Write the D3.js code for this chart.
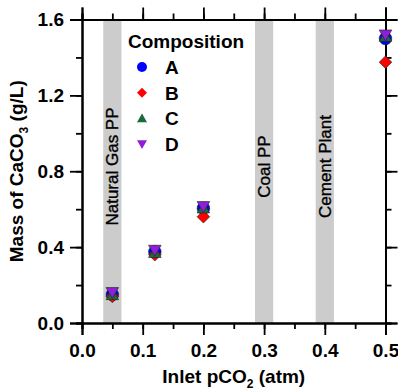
<!DOCTYPE html>
<html lang="en">
<head>
<meta charset="UTF-8">
<title>CaCO3 mass vs inlet pCO2</title>
<script src="https://cdn.jsdelivr.net/npm/d3@7" type="text/javascript"></script>
<style>
  body { margin: 0; background: #fff; }
  text { font-family: "Liberation Sans", Arial, sans-serif; fill: #000; }
</style>
</head>
<body>
<svg width="398" height="390"></svg>
<script type="text/javascript">
// data
var pco2 = [0.05, 0.12, 0.2, 0.5];
var seriesNames = ["A", "B", "C", "D"];
var massA = [0.150, 0.375, 0.605, 1.500];
var massB = [0.140, 0.360, 0.560, 1.375];
var massC = [0.148, 0.370, 0.605, 1.510];
var massD = [0.162, 0.385, 0.615, 1.520];
var seriesColors = ["#0000ff", "#ff0000", "#1a6b3a", "#8f1fd6"];

// shaded source bands
var bandLabels = ["Natural Gas PP", "Coal PP", "Cement Plant"];
var bandCenters = [0.05, 0.3, 0.4];
var bandHalf = 0.015;

var xTicks = [0.0, 0.1, 0.2, 0.3, 0.4, 0.5];
var yTicks = [0.0, 0.4, 0.8, 1.2, 1.6];

var svg = d3.select("svg");
var pL = 82, pR = 385.5, pT = 19.5, pB = 323;

var x = d3.scaleLinear().domain([0, 0.5]).range([pL, pR]);
var y = d3.scaleLinear().domain([0, 1.6]).range([pB, pT]);

// bands
var bands = svg.append("g");
bands.selectAll("rect")
    .data(bandCenters)
    .enter()
    .append("rect")
    .attr("x", function(d){ return x(d - bandHalf); })
    .attr("y", pT)
    .attr("width", function(d){ return x(d + bandHalf) - x(d - bandHalf); })
    .attr("height", pB - pT)
    .attr("fill", "#cccccc");

bands.selectAll("text")
    .data(bandCenters)
    .enter()
    .append("text")
    .attr("transform", function(d){ return "translate(" + (x(d) + 6) + "," + y(0.825) + ") rotate(-90)"; })
    .attr("text-anchor", "middle")
    .attr("stroke", "#000")
    .attr("stroke-width", 0.35)
    .style("font-size", "17px")
    .text(function(d, i){ return bandLabels[i]; });

// axes: ticks outward on all four sides
var fmt = d3.format(".1f");
var xMinor = d3.range(0, 0.5001, 0.05);
var yMinor = d3.range(0, 1.6001, 0.2);

svg.append("g").attr("transform", "translate(0," + pB + ")")
    .call(d3.axisBottom(x).tickValues(xMinor).tickSize(6).tickFormat(""));
svg.append("g").attr("transform", "translate(0," + pB + ")")
    .call(d3.axisBottom(x).tickValues(xTicks).tickSize(12).tickPadding(9).tickFormat(fmt));
svg.append("g").attr("transform", "translate(0," + pT + ")")
    .call(d3.axisTop(x).tickValues(xMinor).tickSize(6).tickFormat(""));
svg.append("g").attr("transform", "translate(0," + pT + ")")
    .call(d3.axisTop(x).tickValues(xTicks).tickSize(12).tickFormat(""));

svg.append("g").attr("transform", "translate(" + pL + ",0)")
    .call(d3.axisLeft(y).tickValues(yMinor).tickSize(6).tickFormat(""));
svg.append("g").attr("transform", "translate(" + pL + ",0)")
    .call(d3.axisLeft(y).tickValues(yTicks).tickSize(12).tickPadding(6).tickFormat(fmt));
svg.append("g").attr("transform", "translate(" + pR + ",0)")
    .call(d3.axisRight(y).tickValues(yMinor).tickSize(6).tickFormat(""));
svg.append("g").attr("transform", "translate(" + pR + ",0)")
    .call(d3.axisRight(y).tickValues(yTicks).tickSize(12).tickFormat(""));

svg.selectAll(".domain").attr("stroke", "#000").attr("stroke-width", 2);
svg.selectAll(".tick line").attr("stroke", "#000").attr("stroke-width", 1.8);
svg.selectAll(".tick text")
    .style("font-family", "'Liberation Sans', Arial, sans-serif")
    .style("font-size", "19px")
    .style("font-weight", "bold")
    .attr("fill", "#000");

// axis titles
var xt = svg.append("text")
    .attr("x", (pL + pR) / 2)
    .attr("y", 383)
    .attr("text-anchor", "middle")
    .style("font-size", "19px")
    .style("font-weight", "bold");
xt.append("tspan").text("Inlet pCO");
xt.append("tspan").attr("dy", 5).style("font-size", "12px").text("2");
xt.append("tspan").attr("dy", -5).text(" (atm)");

var yt = svg.append("text")
    .attr("transform", "translate(23," + ((pT + pB) / 2) + ") rotate(-90)")
    .attr("text-anchor", "middle")
    .style("font-size", "19px")
    .style("font-weight", "bold");
yt.append("tspan").text("Mass of CaCO");
yt.append("tspan").attr("dy", 5).style("font-size", "12px").text("3");
yt.append("tspan").attr("dy", -5).text(" (g/L)");

// marker shapes
function marker(i, r) {
    if (i === 0) return d3.symbol(d3.symbolCircle, Math.PI * r * r)();
    if (i === 1) return "M0," + (-r) + "L" + r + ",0L0," + r + "L" + (-r) + ",0Z";
    if (i === 2) return "M0," + (-r) + "L" + r + "," + (r * 0.75) + "L" + (-r) + "," + (r * 0.75) + "Z";
    return "M0," + r + "L" + r + "," + (-r * 0.75) + "L" + (-r) + "," + (-r * 0.75) + "Z";
}

var allSeries = [massA, massB, massC, massD];
var pts = svg.append("g");
allSeries.forEach(function(vals, i){
    pts.selectAll(".s" + i)
        .data(vals)
        .enter()
        .append("path")
        .attr("class", "s" + i)
        .attr("transform", function(d, j){ return "translate(" + x(pco2[j]) + "," + y(d) + ")"; })
        .attr("d", marker(i, 6.3))
        .attr("fill", seriesColors[i])
        .attr("stroke", "#222")
        .attr("stroke-width", 0.6);
});

// legend
var leg = svg.append("g");
leg.append("text")
    .attr("x", 128).attr("y", 48)
    .style("font-size", "19px")
    .style("font-weight", "bold")
    .text("Composition");
var rows = leg.selectAll(".row")
    .data(seriesNames)
    .enter()
    .append("g")
    .attr("transform", function(d, i){ return "translate(142," + (67 + i * 25.7) + ")"; });
rows.append("path")
    .attr("d", function(d, i){ return marker(i, 5); })
    .attr("fill", function(d, i){ return seriesColors[i]; });
rows.append("text")
    .attr("x", 23).attr("y", 7)
    .style("font-size", "19px")
    .style("font-weight", "bold")
    .text(function(d){ return d; });
</script>
</body>
</html>
